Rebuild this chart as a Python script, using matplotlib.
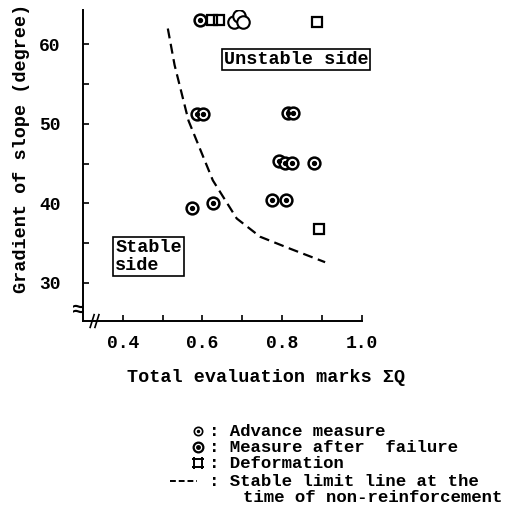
import matplotlib.pyplot as plt
import numpy as np
from matplotlib.path import Path
from matplotlib.lines import Line2D

plt.rcParams['font.family'] = ['Liberation Mono', 'DejaVu Sans Mono']
plt.rcParams['font.weight'] = 'bold'

# Advance measure (open circles)
adv_x = [0.679, 0.692, 0.702]
adv_y = [62.8, 63.6, 62.8]

# Measure after failure (bullseye)
fail_x = [0.593, 0.586, 0.601, 0.815, 0.828, 0.791, 0.808, 0.826, 0.879, 0.573, 0.627, 0.774, 0.810]
fail_y = [63.1, 51.3, 51.3, 51.4, 51.4, 45.3, 45.1, 45.1, 45.1, 39.4, 40.0, 40.4, 40.4]

# Deformation
def_x = [0.625, 0.642, 0.888, 0.892]
def_y = [63.1, 63.1, 62.8, 36.8]

# Stable limit line at the time of non-reinforcement
limit_x = [0.513, 0.530, 0.565, 0.626, 0.686, 0.745, 0.820, 0.908]
limit_y = [62.0, 57.4, 50.4, 42.9, 38.1, 35.8, 34.3, 32.6]

x_ticks = [0.4, 0.6, 0.8, 1.0]
x_minor = [0.5, 0.7, 0.9]
y_ticks = [30, 40, 50, 60]
y_minor = [35, 45, 55]

# square with sides running past the corners, like the deformation sign
e = 1.3
verts = [(-e, 1), (e, 1), (-e, -1), (e, -1), (-1, e), (-1, -e), (1, e), (1, -e)]
codes = [Path.MOVETO, Path.LINETO] * 4
deform_marker = Path(verts, codes)

fig = plt.figure(figsize=(5.22, 5.12), dpi=100)
ax = fig.add_axes([0.159, 0.373, 0.534, 0.607])

ax.plot(limit_x, limit_y, color='black', lw=1.6, ls=(0, (4.5, 2.5)))

ax.plot(adv_x, adv_y, 'o', ms=9, mfc='white', mec='black', mew=1.5, ls='none')
ax.plot(fail_x, fail_y, 'o', ms=8.5, mfc='white', mec='black', mew=1.8, ls='none')
ax.plot(fail_x, fail_y, 'o', ms=2.8, color='black', ls='none')
ax.plot(def_x, def_y, marker=deform_marker, ms=9, mfc='none', mec='black', mew=1.6, ls='none')

ax.text(0.654, 58.1, 'Unstable side', fontsize=13.3, va='center', ha='left',
        bbox=dict(boxstyle='square,pad=0.1', fc='white', ec='black', lw=1.2))
ax.text(0.381, 33.3, 'Stable\nside', fontsize=13.3, va='center', ha='left', linespacing=1.05,
        bbox=dict(boxstyle='square,pad=0.12', fc='white', ec='black', lw=1.2))

ax.set_xlim(0.3, 1.0)
ax.set_ylim(25.2, 64.3)
ax.set_xticks(x_ticks)
ax.set_xticklabels([f'{v:.1f}' for v in x_ticks])
ax.set_xticks(x_minor, minor=True)
ax.set_yticks(y_ticks)
ax.set_yticks(y_minor, minor=True)
ax.tick_params(which='both', direction='in', length=4, width=1.2, labelsize=13)
ax.tick_params(axis='x', pad=10)
ax.tick_params(axis='y', pad=16)
ax.spines['top'].set_visible(False)
ax.spines['right'].set_visible(False)
ax.spines['left'].set_linewidth(1.4)
ax.spines['bottom'].set_linewidth(1.4)

fig.text(22 / 522, 1 - 148 / 512, 'Gradient of slope (degree)', fontsize=13.3,
         rotation=90, ha='center', va='center')

# axis break marks
for dx in (0.0, 0.012):
    ax.plot([0.318 + dx, 0.328 + dx], [24.4, 26.0], color='black', lw=1.2,
            clip_on=False)
ax.text(0.288, 26.6, '\u2248', fontsize=15, ha='center', va='center')

fig.text(127 / 522, 1 - 378 / 512, 'Total evaluation marks \u03a3Q', fontsize=13.3,
         ha='left', va='center')

# legend block
rows_y = [431, 447, 463, 481]
labels = [': Advance measure', ': Measure after  failure', ': Deformation',
          ': Stable limit line at the']
for yy, lab in zip(rows_y, labels):
    fig.text(209 / 522, 1 - yy / 512, lab, fontsize=12.5, ha='left', va='center')
fig.text(243 / 522, 1 - 498 / 512, 'time of non-reinforcement', fontsize=12.5,
         ha='left', va='center')

lx = 198 / 522
fig.add_artist(Line2D([lx], [1 - 431 / 512], marker='o', ms=6, mfc='white', mec='black', mew=1.2))
fig.add_artist(Line2D([lx], [1 - 431 / 512], marker='o', ms=1.5, color='black'))
fig.add_artist(Line2D([lx], [1 - 447 / 512], marker='o', ms=7, mfc='white', mec='black', mew=1.6))
fig.add_artist(Line2D([lx], [1 - 447 / 512], marker='o', ms=2.5, color='black'))
fig.add_artist(Line2D([lx], [1 - 463 / 512], marker=deform_marker, ms=8, mfc='none',
                      mec='black', mew=1.4))
fig.add_artist(Line2D([170 / 522, 197 / 522], [1 - 481 / 512] * 2, color='black', lw=1.4,
                      ls=(0, (3, 1.5))))

fig.savefig('out.png', dpi=100)
